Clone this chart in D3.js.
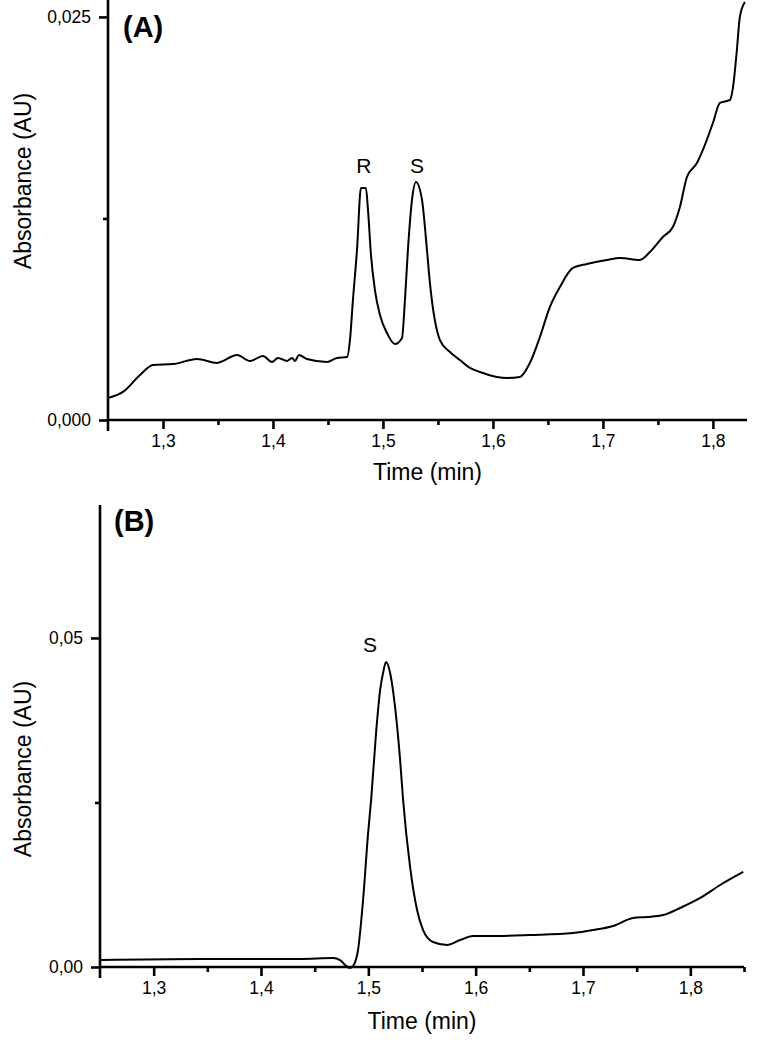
<!DOCTYPE html>
<html>
<head>
<meta charset="utf-8">
<script src="https://cdn.jsdelivr.net/npm/d3@7.9.0/dist/d3.min.js"></script>
<style>
  html, body { margin: 0; padding: 0; background: #fff; }
  svg { display: block; font-family: "Liberation Sans", Arial, sans-serif; }
  .domain, .tick line { stroke: #000; stroke-width: 2.6; }
</style>
</head>
<body>
<svg id="chart" width="772" height="1050"></svg>
<script>
// panel A : racemic mixture
const timeA = [1.250, 1.2636, 1.2791, 1.2909, 1.3091, 1.3309, 1.3491, 1.3673, 1.3791, 1.3909,
  1.3991, 1.4045, 1.4127, 1.4173, 1.4200, 1.4236, 1.4309, 1.4491, 1.4582, 1.4673,
  1.4700, 1.4727, 1.4764, 1.4800, 1.4845, 1.4864, 1.4891, 1.4927, 1.4973, 1.5036,
  1.5109, 1.5173, 1.5200, 1.5227, 1.5264, 1.5300, 1.5355, 1.5400, 1.5427, 1.5518,
  1.5609, 1.5700, 1.5791, 1.5882, 1.6036, 1.6127, 1.6245, 1.6336, 1.6427, 1.6518,
  1.6609, 1.6727, 1.6855, 1.7036, 1.7155, 1.7336, 1.7427, 1.7545, 1.7636, 1.7700,
  1.7764, 1.7855, 1.7909, 1.8000, 1.8064, 1.8155, 1.8182, 1.8218, 1.8245, 1.8291];
const absA = [0.00136, 0.00174, 0.00279, 0.00341, 0.00347, 0.00378, 0.00354, 0.00403, 0.00366, 0.00397,
  0.00360, 0.00385, 0.00366, 0.00385, 0.00366, 0.00403, 0.00378, 0.00360, 0.00385, 0.00391,
  0.00496, 0.00744, 0.01055, 0.01439, 0.01439, 0.01303, 0.01024, 0.00806, 0.00651, 0.00540,
  0.00471, 0.00509, 0.00744, 0.01055, 0.01365, 0.01476, 0.01365, 0.01055, 0.00850, 0.00496,
  0.00422, 0.00372, 0.00323, 0.00298, 0.00267, 0.00261, 0.00267, 0.00354, 0.00515, 0.00701,
  0.00825, 0.00943, 0.00968, 0.00993, 0.01005, 0.00993, 0.01042, 0.01135, 0.01197, 0.01321,
  0.01507, 0.01594, 0.01675, 0.01842, 0.01967, 0.01985, 0.02060, 0.02295, 0.02500, 0.02593];

// panel B : S enantiomer
const timeB = [1.250, 1.3432, 1.4364, 1.4671, 1.4737, 1.4783, 1.4830, 1.4858, 1.4904, 1.4951,
  1.4998, 1.5026, 1.5072, 1.5110, 1.5137, 1.5165, 1.5203, 1.5249, 1.5296, 1.5324,
  1.5389, 1.5454, 1.5510, 1.5603, 1.5734, 1.5855, 1.5976, 1.6200, 1.6508, 1.6908,
  1.7095, 1.7281, 1.7467, 1.7598, 1.7747, 1.7905, 1.8092, 1.8278, 1.8493];
const absB = [0.00106, 0.00122, 0.00122, 0.00137, 0.00106, 0.00030, -0.00015, 0.00015, 0.00258, 0.01018,
  0.02037, 0.02538, 0.03556, 0.04210, 0.04468, 0.04635, 0.04468, 0.03951, 0.03146, 0.02538,
  0.01520, 0.00866, 0.00562, 0.00380, 0.00334, 0.00410, 0.00471, 0.00471, 0.00486, 0.00517,
  0.00562, 0.00623, 0.00745, 0.00760, 0.00790, 0.00897, 0.01049, 0.01246, 0.01444];

const xTicks = [1.3, 1.4, 1.5, 1.6, 1.7, 1.8];
const xMinorA = [1.35, 1.45, 1.55, 1.65, 1.75];
const xMinorB = [1.35, 1.45, 1.55, 1.65, 1.75, 1.85];
const yTicksA = [0, 0.025];
const yMinorA = [0.0125];
const yTicksB = [0, 0.05];
const yMinorB = [0.025];

const peaksA = [{ label: "R", t: 1.4827, a: 0.01532 }, { label: "S", t: 1.5309, a: 0.01532 }];
const peaksB = [{ label: "S", t: 1.5016, a: 0.04787 }];

const comma = (fmt) => (d) => d3.format(fmt)(d).replace(".", ",");

const svg = d3.select("#chart");

function drawPanel({ times, values, xDomain, xRange, yDomain, yRange, yTicks, yMinor, xMinor,
  yFormat, panelLabel, labelPos, peaks, xTitleY, yTitlePos }) {
  const g = svg.append("g");
  const x = d3.scaleLinear().domain(xDomain).range(xRange);
  const y = d3.scaleLinear().domain(yDomain).range(yRange);

  // minor ticks first, then the major axes on top
  g.append("g")
    .attr("transform", `translate(0,${yRange[0]})`)
    .call(d3.axisBottom(x).tickValues(xMinor).tickSize(5).tickSizeOuter(0).tickFormat(""))
    .select(".domain").remove();
  g.append("g")
    .attr("transform", `translate(${xRange[0]},0)`)
    .call(d3.axisLeft(y).tickValues(yMinor).tickSize(5).tickSizeOuter(0).tickFormat(""))
    .select(".domain").remove();

  const xAxis = g.append("g")
    .attr("transform", `translate(0,${yRange[0]})`)
    .call(d3.axisBottom(x).tickValues(xTicks).tickSize(9).tickSizeOuter(0)
      .tickPadding(6).tickFormat(comma(".1f")));
  xAxis.select(".domain").attr("d", `M${xRange[0] - 1.3},0H${xRange[1]}`);

  const yAxis = g.append("g")
    .attr("transform", `translate(${xRange[0]},0)`)
    .call(d3.axisLeft(y).tickValues(yTicks).tickSize(9).tickSizeOuter(0)
      .tickPadding(8).tickFormat(yFormat));
  yAxis.select(".domain").attr("d", `M0,${yRange[0] + 11}V${yRange[1]}`);

  g.selectAll(".tick text")
    .attr("font-size", 17.5)
    .attr("font-family", "Liberation Sans, Arial, sans-serif")
    .attr("fill", "#000");

  g.append("path")
    .datum(d3.zip(times, values))
    .attr("fill", "none")
    .attr("stroke", "#000")
    .attr("stroke-width", 2)
    .attr("stroke-linejoin", "round")
    .attr("d", d3.line()
      .x((d) => x(d[0]))
      .y((d) => y(d[1]))
      .curve(d3.curveMonotoneX));

  g.selectAll(".peak")
    .data(peaks)
    .join("text")
    .attr("class", "peak")
    .attr("x", (d) => x(d.t))
    .attr("y", (d) => y(d.a))
    .attr("text-anchor", "middle")
    .attr("font-size", 21)
    .text((d) => d.label);

  g.append("text")
    .attr("x", labelPos[0])
    .attr("y", labelPos[1])
    .attr("font-size", 29)
    .attr("font-weight", "bold")
    .text(panelLabel);

  g.append("text")
    .attr("x", (xRange[0] + xRange[1]) / 2)
    .attr("y", xTitleY)
    .attr("text-anchor", "middle")
    .attr("font-size", 23)
    .text("Time (min)");

  g.append("text")
    .attr("transform", `translate(${yTitlePos[0]},${yTitlePos[1]}) rotate(-90)`)
    .attr("text-anchor", "middle")
    .attr("font-size", 23)
    .text("Absorbance (AU)");
}

drawPanel({
  times: timeA,
  values: absA,
  xDomain: [1.25, 1.831],
  xRange: [108, 747],
  yDomain: [0, 0.02605],
  yRange: [420, 0],
  yTicks: yTicksA,
  yMinor: yMinorA,
  xMinor: xMinorA,
  yFormat: comma(".3f"),
  panelLabel: "(A)",
  labelPos: [123, 37],
  peaks: peaksA,
  xTitleY: 480,
  yTitlePos: [31, 181],
});

drawPanel({
  times: timeB,
  values: absB,
  xDomain: [1.25, 1.85],
  xRange: [100, 744],
  yDomain: [0, 0.0702],
  yRange: [967, 505],
  yTicks: yTicksB,
  yMinor: yMinorB,
  xMinor: xMinorB,
  yFormat: comma(".2f"),
  panelLabel: "(B)",
  labelPos: [114, 531],
  peaks: peaksB,
  xTitleY: 1029,
  yTitlePos: [31, 769],
});
</script>
</body>
</html>
